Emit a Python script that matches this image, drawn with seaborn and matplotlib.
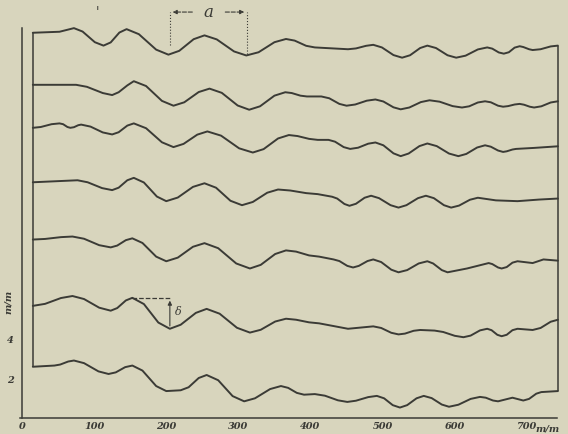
import pandas as pd
import numpy as np
import matplotlib.pyplot as plt
import seaborn as sns

# Traces: x in mm, y in mm above the base line
t1_x = [15, 52, 72, 84, 101, 113, 123, 135, 145, 162, 186, 203, 218, 238, 253, 270, 294, 311, 328, 350,
        366, 378, 394, 406, 452, 463, 477, 487, 499, 515, 527, 538, 552, 562, 574, 590, 602, 615, 632, 645,
        652, 661, 668, 675, 683, 690, 695, 703, 708, 719, 733, 743]
t1_y = [19.27, 19.32, 19.50, 19.33, 18.80, 18.63, 18.79, 19.28, 19.45, 19.20, 18.43, 18.18, 18.37, 18.95, 19.14,
        18.94, 18.34, 18.14, 18.30, 18.80, 18.96, 18.88, 18.62, 18.54, 18.45, 18.49, 18.62, 18.67, 18.54, 18.16,
        18.03, 18.15, 18.51, 18.63, 18.51, 18.15, 18.03, 18.13, 18.44, 18.54, 18.48, 18.29, 18.23, 18.30, 18.53,
        18.60, 18.56, 18.45, 18.41, 18.45, 18.59, 18.63]

t2_x = [15, 75, 90, 112, 125, 134, 146, 155, 172, 194, 210, 225, 245, 260, 277, 299, 315, 330, 350, 365,
        374, 386, 395, 415, 426, 440, 450, 462, 478, 490, 501, 515, 525, 537, 553, 565, 579, 597, 610, 620,
        632, 642, 650, 660, 667, 674, 683, 690, 696, 704, 710, 720, 733, 743]
t2_y = [16.68, 16.68, 16.58, 16.27, 16.17, 16.31, 16.65, 16.86, 16.62, 15.88, 15.64, 15.81, 16.32, 16.49, 16.28,
        15.65, 15.44, 15.61, 16.14, 16.31, 16.27, 16.14, 16.10, 16.10, 16.01, 15.73, 15.64, 15.70, 15.89, 15.95,
        15.85, 15.56, 15.46, 15.55, 15.82, 15.91, 15.84, 15.62, 15.55, 15.61, 15.80, 15.86, 15.81, 15.64, 15.59,
        15.62, 15.70, 15.73, 15.69, 15.59, 15.55, 15.61, 15.80, 15.86]

t3_x = [15, 26, 41, 52, 57, 63, 67, 72, 78, 82, 95, 112, 125, 134, 146, 155, 172, 194, 210, 224,
        243, 257, 276, 301, 320, 335, 355, 370, 382, 398, 410, 425, 434, 446, 455, 466, 480, 490, 501, 515,
        525, 536, 551, 562, 575, 592, 605, 616, 631, 642, 650, 660, 667, 672, 680, 685, 710, 743]
t3_y = [14.54, 14.58, 14.72, 14.76, 14.72, 14.58, 14.54, 14.57, 14.67, 14.70, 14.60, 14.31, 14.21, 14.32, 14.65,
        14.76, 14.52, 13.82, 13.58, 13.74, 14.20, 14.36, 14.15, 13.52, 13.31, 13.48, 14.01, 14.18, 14.13, 13.99,
        13.94, 13.94, 13.85, 13.58, 13.49, 13.55, 13.75, 13.81, 13.67, 13.27, 13.13, 13.26, 13.63, 13.76, 13.63,
        13.26, 13.13, 13.24, 13.56, 13.67, 13.60, 13.41, 13.34, 13.37, 13.46, 13.49, 13.54, 13.62]

t4_x = [15, 77, 91, 111, 125, 134, 146, 155, 169, 187, 200, 216, 237, 253, 269, 289, 305, 320, 340, 355,
        372, 394, 410, 430, 437, 447, 454, 463, 475, 484, 495, 511, 522, 533, 549, 560, 571, 585, 595, 606,
        621, 632, 657, 687, 717, 743]
t4_y = [11.83, 11.93, 11.83, 11.54, 11.44, 11.56, 11.93, 12.05, 11.82, 11.12, 10.89, 11.07, 11.60, 11.78, 11.56,
        10.91, 10.69, 10.85, 11.31, 11.47, 11.42, 11.29, 11.24, 11.11, 11.02, 10.75, 10.66, 10.76, 11.06, 11.16,
        11.04, 10.69, 10.57, 10.69, 11.04, 11.16, 11.04, 10.69, 10.57, 10.67, 10.96, 11.06, 10.93, 10.89, 10.97,
        11.02]

t5_x = [15, 32, 54, 70, 86, 107, 123, 132, 144, 153, 167, 186, 200, 216, 237, 253, 272, 297, 316, 331,
        351, 366, 380, 398, 412, 432, 440, 451, 459, 467, 479, 487, 498, 512, 522, 534, 550, 562, 570, 582,
        590, 617, 647, 652, 660, 665, 672, 680, 687, 708, 723, 743]
t5_y = [8.98, 9.01, 9.10, 9.13, 9.02, 8.70, 8.59, 8.68, 8.95, 9.04, 8.81, 8.13, 7.90, 8.08, 8.62,
        8.80, 8.55, 7.79, 7.54, 7.72, 8.26, 8.44, 8.38, 8.19, 8.13, 7.99, 7.91, 7.67, 7.59, 7.67,
        7.91, 7.99, 7.86, 7.48, 7.35, 7.46, 7.79, 7.90, 7.79, 7.46, 7.35, 7.54, 7.81, 7.76, 7.59,
        7.54, 7.61, 7.83, 7.90, 7.81, 7.99, 7.93]

t6_x = [15, 32, 54, 70, 86, 107, 123, 132, 144, 153, 169, 189, 205, 220, 241, 256, 274, 298, 316, 331,
        351, 366, 380, 398, 412, 452, 487, 498, 512, 522, 531, 543, 552, 572, 584, 600, 612, 622, 635, 645,
        651, 659, 665, 672, 680, 687, 708, 719, 733, 743]
t6_y = [5.68, 5.78, 6.07, 6.17, 6.02, 5.59, 5.44, 5.57, 5.95, 6.08, 5.77, 4.85, 4.54, 4.74, 5.33,
        5.53, 5.29, 4.59, 4.35, 4.49, 4.90, 5.04, 4.99, 4.86, 4.81, 4.54, 4.66, 4.58, 4.34, 4.26,
        4.30, 4.44, 4.48, 4.45, 4.38, 4.19, 4.12, 4.20, 4.46, 4.54, 4.47, 4.24, 4.17, 4.24, 4.47,
        4.54, 4.48, 4.58, 4.89, 4.99]

t7_x = [15, 45, 53, 64, 72, 86, 106, 120, 130, 143, 153, 167, 186, 200, 220, 231, 245, 256, 272, 292,
        308, 323, 344, 359, 369, 381, 391, 406, 420, 438, 451, 463, 480, 492, 502, 514, 524, 534, 547, 557,
        568, 582, 592, 605, 622, 635, 643, 653, 660, 680, 695, 703, 713, 720, 743]
t7_y = [2.65, 2.71, 2.76, 2.91, 2.96, 2.83, 2.42, 2.29, 2.37, 2.63, 2.71, 2.46, 1.69, 1.44, 1.48,
        1.63, 2.09, 2.24, 1.98, 1.19, 0.93, 1.08, 1.54, 1.69, 1.60, 1.35, 1.26, 1.29, 1.21, 0.98,
        0.90, 0.96, 1.14, 1.20, 1.08, 0.74, 0.62, 0.74, 1.08, 1.20, 1.09, 0.77, 0.66, 0.76, 1.05,
        1.15, 1.11, 0.97, 0.93, 1.11, 0.97, 1.05, 1.31, 1.39, 1.44]

x_ticks = [0, 100, 200, 300, 400, 500, 600, 700]
y_ticks = [2, 4]

traces = [(t1_x, t1_y), (t2_x, t2_y), (t3_x, t3_y), (t4_x, t4_y),
          (t5_x, t5_y), (t6_x, t6_y), (t7_x, t7_y)]
frames = []
for i, (xs, ys) in enumerate(traces):
    frames.append(pd.DataFrame({'mm': xs, 'val': ys, 'trace': i + 1}))
df = pd.concat(frames, ignore_index=True)

paper = '#d8d5bd'
ink = '#3b3b36'
sns.set_style('white', {'axes.facecolor': paper, 'figure.facecolor': paper})
plt.rcParams['font.family'] = ['DejaVu Serif']

fig = plt.figure(figsize=(5.68, 4.34), dpi=100)
ax = fig.add_axes([22 / 568, 16 / 434, 546 / 568, 418 / 434])
sns.lineplot(data=df, x='mm', y='val', units='trace', estimator=None, sort=False,
             color=ink, linewidth=1.4, ax=ax, legend=False, solid_joinstyle='round')

# frame joining the trace ends
ax.vlines(t1_x[0], t7_y[0], t1_y[0], color=ink, linewidth=1.1)
ax.vlines(t1_x[-1], t7_y[-1], t1_y[-1], color=ink, linewidth=1.1)

ax.set_xlim(0, 757)
ax.set_ylim(0.1, 20.9)
for s in ['top', 'right']:
    ax.spines[s].set_visible(False)
ax.spines['left'].set_bounds(0.1, 19.5)
ax.spines['bottom'].set_bounds(-3, 742)
for s in ['left', 'bottom']:
    ax.spines[s].set_color(ink)
    ax.spines[s].set_linewidth(1.1)

ax.set_xticks(x_ticks)
ax.set_xticklabels([str(v) for v in x_ticks], fontsize=7, fontstyle='italic', fontweight='bold', color=ink)
ax.set_yticks(y_ticks)
ax.set_yticklabels([str(v) for v in y_ticks], fontsize=7, fontstyle='italic', fontweight='bold', color=ink)
ax.tick_params(axis='x', direction='inout', length=4, width=0.8, color=ink, pad=1)
ax.tick_params(axis='y', direction='out', length=2, width=0.8, color=ink, pad=4)
ax.set_xlabel('')
ax.set_ylabel('')
ax.text(712, -0.2, 'm/m', fontsize=7, fontstyle='italic', fontweight='bold', color=ink, va='top', clip_on=False)
ax.text(-19, 5.9, 'm/m', fontsize=7, fontstyle='italic', fontweight='bold', color=ink,
        rotation=90, ha='center', va='center', clip_on=False)

# wave length a
ax.vlines([205, 312], [18.65, 18.2], 20.3, color=ink, linewidth=0.8, linestyles=':')
ax.annotate('', xy=(205, 20.3), xytext=(240, 20.3),
            arrowprops=dict(arrowstyle='-|>', color=ink, lw=0.8, ls='--', mutation_scale=6))
ax.annotate('', xy=(312, 20.3), xytext=(278, 20.3),
            arrowprops=dict(arrowstyle='-|>', color=ink, lw=0.8, ls='--', mutation_scale=6))
ax.text(258, 20.3, 'a', fontsize=12, fontstyle='italic', color=ink, ha='center', va='center')
ax.text(104, 20.3, "'", fontsize=9, color=ink, ha='center', va='center')

# amplitude delta
ax.hlines(6.08, 153, 205, color=ink, linewidth=0.9, linestyles='--')
ax.annotate('', xy=(205, 6.08), xytext=(205, 4.54),
            arrowprops=dict(arrowstyle='-|>', color=ink, lw=0.8, mutation_scale=6))
ax.text(212, 5.35, 'δ', fontsize=8, fontstyle='italic', color=ink, ha='left', va='center')

plt.savefig('out.png', dpi=100, facecolor=paper)
plt.close()
